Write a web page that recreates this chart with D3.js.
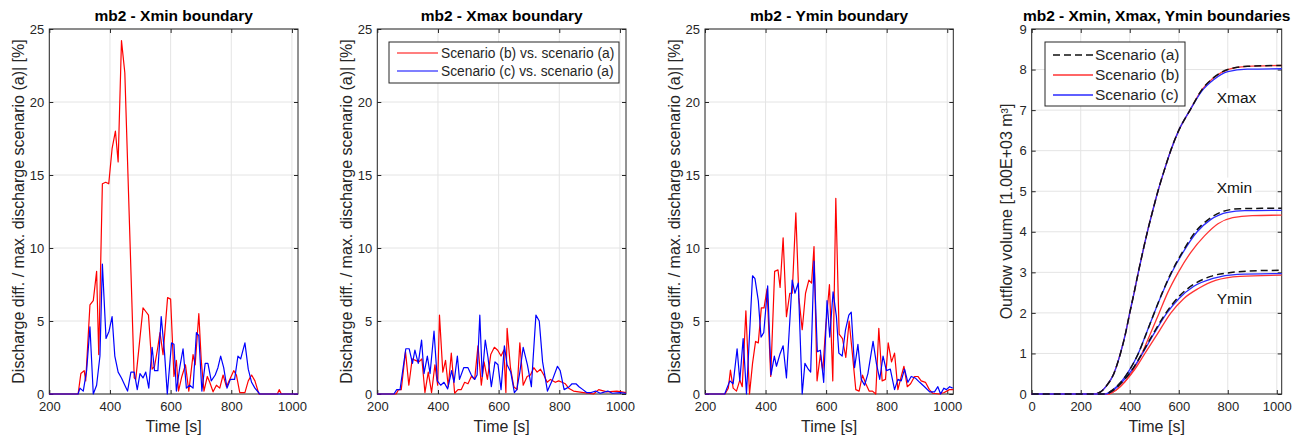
<!DOCTYPE html>
<html>
<head>
<meta charset="utf-8">
<script src="https://cdn.jsdelivr.net/npm/d3@7"></script>
<style>
  body { margin: 0; background: #fff; }
  svg { display: block; font-family: "Liberation Sans", Arial, sans-serif; }
</style>
</head>
<body>
<svg id="chart" width="1304" height="437"></svg>
<script>
// ---- data: [time (s), value] ----

// Xmin boundary, discharge diff. [%]
const xminB = [[200,0],[295,0],[304,1.4],[315,1.6],[320,0.9],[334,6.1],[345,6.4],[356,8.4],[363,2.7],[375,14.4],[386,14.5],[396,14.4],[407,16.8],[418,18.0],[427,15.9],[438,24.2],[449,22.0],[480,1.1],[485,1.0],[509,5.9],[520,5.6],[527,5.4],[539,1.7],[547,1.9],[557,3.1],[565,4.2],[575,2.7],[590,6.6],[600,6.5],[611,1.2],[619,2.3],[626,0.2],[637,1.2],[649,2.0],[660,0.2],[674,2.7],[681,2.0],[693,5.5],[701,2.3],[710,0.2],[721,1.2],[729,0.8],[740,0.15],[751,0.6],[762,0.4],[773,1.3],[784,0.5],[795,1.0],[808,1.6],[817,1.3],[828,0.1],[845,0.1],[856,0.9],[867,1.3],[878,0.9],[891,0],[952,0],[958,0.3],[965,0],[1020,0]];
const xminC = [[200,0],[295,0],[301,0.4],[312,0.2],[323,1.6],[334,4.6],[345,0],[356,0.6],[367,2.6],[375,8.9],[387,3.8],[397,4.3],[407,5.3],[416,2.6],[427,1.5],[438,1.1],[449,0.6],[458,0.2],[469,1.5],[480,1.5],[490,0.3],[499,1.4],[509,1.1],[518,1.5],[528,0.4],[539,3.2],[547,1.6],[558,1.6],[569,5.3],[580,2.8],[589,0],[603,3.5],[611,3.4],[619,0.2],[630,1.8],[641,3.1],[652,0.4],[663,0.6],[674,0.4],[685,4.2],[693,4.0],[703,0.2],[714,2.1],[723,2.1],[734,0.9],[747,1.3],[756,1.8],[765,2.6],[775,1.8],[786,0.4],[797,1.0],[811,1.0],[822,2.6],[831,2.4],[845,3.5],[856,1.7],[867,0.8],[878,0.4],[894,0],[1020,0]];

// Xmax boundary
const xmaxB = [[200,0],[262,0],[270,0.3],[279,0.3],[293,2.9],[304,0.6],[315,2.4],[326,2.3],[337,2.2],[347,2.4],[357,0.1],[368,1.5],[379,0.1],[390,2.0],[399,0.6],[405,5.4],[416,1.5],[425,2.3],[434,0.5],[444,2.8],[455,0.05],[466,0.3],[477,0.3],[488,0.8],[499,0.7],[510,1.2],[521,1.0],[532,3.3],[543,0.6],[552,2.2],[563,1.0],[574,2.7],[586,3.2],[597,3.0],[608,2.6],[617,3.0],[624,0.1],[628,4.5],[639,1.8],[650,0.5],[661,0.3],[670,3.5],[681,0.6],[694,1.2],[705,1.3],[716,1.8],[727,1.5],[738,1.7],[749,1.3],[760,0.8],[771,1.0],[787,0.8],[798,0.9],[809,0.8],[820,0.7],[831,0.4],[847,0.2],[880,0.1],[913,0],[930,0.3],[957,0.15],[990,0.2],[1020,0.1]];
const xmaxC = [[200,0],[255,0],[264,0.3],[275,0.3],[294,3.1],[305,3.1],[316,2.1],[324,3.0],[335,2.1],[346,3.7],[354,1.4],[365,2.6],[374,1.4],[387,4.3],[398,0.9],[409,0.6],[420,0.8],[432,0.35],[445,1.6],[453,0.8],[464,2.6],[471,1.0],[485,1.8],[499,1.8],[510,1.3],[521,1.0],[529,1.3],[538,5.4],[546,1.2],[556,3.7],[565,2.5],[576,0.5],[588,2.2],[598,2.0],[608,0.3],[619,3.3],[628,2.0],[640,1.5],[652,0.1],[660,0.3],[670,1.5],[681,3.2],[695,2.0],[708,0.5],[714,2.5],[723,5.4],[734,5.0],[745,2.2],[761,0.2],[778,1.0],[794,1.9],[803,1.6],[816,0.3],[833,0.5],[842,0.7],[855,0.7],[865,0.5],[878,0.3],[890,0.1],[905,0.1],[920,0.2],[935,0.05],[960,0.2],[975,0.05],[1000,0.1],[1020,0.05]];

// Ymin boundary
const yminB = [[200,0],[266,0],[277,0.4],[284,1.64],[293,0.4],[304,0.2],[315,0.95],[323,0.5],[335,5.7],[347,0],[357,2.1],[367,3.6],[376,3.5],[386,5.9],[395,5.9],[405,7.2],[417,1.2],[430,8.4],[441,8.5],[448,7.3],[458,10.7],[469,5.3],[480,6.9],[488,6.9],[500,12.4],[510,6.6],[521,4.4],[532,6.9],[543,7.8],[552,7.6],[560,10.1],[570,0.9],[581,2.7],[589,1.6],[598,4.4],[611,7.5],[622,0.9],[632,13.4],[643,4.1],[654,3.8],[665,2.5],[676,5.0],[687,2.7],[698,0.3],[709,0.2],[720,1.3],[731,0.7],[742,0.2],[753,0.2],[764,0],[774,4.5],[785,0.9],[796,1.0],[805,3.5],[816,2.2],[826,2.8],[837,0.3],[848,1.2],[857,1.9],[868,0.5],[879,0.7],[892,1.2],[903,1.2],[914,0.9],[928,0.8],[941,0.3],[952,0.05],[974,0],[990,0.1],[1007,0.3],[1020,0.3]];
const yminC = [[200,0],[265,0],[282,0.9],[293,0.7],[306,3.1],[315,0.9],[326,3.8],[337,0],[357,8.1],[365,7.9],[376,6.4],[385,3.9],[394,4.2],[407,7.4],[418,1.3],[429,2.6],[436,1.9],[447,2.7],[458,3.3],[469,1.1],[488,7.8],[497,6.9],[508,7.6],[521,0],[530,2.1],[541,1.7],[549,1.5],[560,9.1],[571,2.9],[581,3.0],[592,0.8],[603,6.4],[612,3.9],[623,7.0],[634,5.3],[642,2.8],[653,2.6],[664,4.4],[675,5.4],[683,5.6],[694,1.8],[705,3.4],[716,1.0],[727,0.6],[738,1.4],[755,3.6],[766,2.1],[777,1.0],[788,2.6],[799,1.6],[812,1.7],[826,0.3],[837,1.0],[848,0.9],[859,1.7],[870,0.8],[881,1.2],[894,1.1],[909,0.8],[925,0.5],[942,0.15],[958,0.15],[969,0.5],[978,0],[989,0.4],[997,0.3],[1008,0.5],[1018,0.4]];

// Outflow volume [1e3 m3]
const volXmaxA = [[0,0],[250,0],[280,0.05],[305,0.2],[335,0.5],[362,1.0],[383,1.5],[400,2.0],[418,2.5],[435,3.0],[453,3.5],[472,4.0],[493,4.5],[515,5.0],[540,5.5],[567,6.0],[600,6.5],[646,7.0],[694,7.5],[742,7.8],[800,8.0],[880,8.08],[1020,8.1]];
const volXmaxB = [[0,0],[250,0],[280,0.05],[305,0.2],[335,0.5],[362,1.0],[383,1.5],[400,2.0],[418,2.5],[435,3.0],[453,3.5],[472,4.0],[493,4.5],[515,5.0],[540,5.5],[567,6.0],[600,6.5],[646,7.0],[694,7.5],[742,7.8],[800,8.0],[880,8.08],[1020,8.1]];
const volXmaxC = [[0,0],[250,0],[280,0.05],[305,0.2],[335,0.5],[362,1.0],[383,1.5],[400,2.0],[418,2.5],[435,3.0],[453,3.5],[472,4.0],[493,4.5],[515,5.0],[540,5.5],[567,6.0],[600,6.5],[646,7.0],[694,7.47],[742,7.75],[800,7.95],[880,8.01],[1020,8.02]];
const volXminA = [[0,0],[300,0],[330,0.1],[365,0.3],[400,0.6],[435,1.0],[468,1.5],[500,2.0],[533,2.5],[570,3.0],[615,3.5],[668,4.0],[720,4.3],[780,4.5],[850,4.57],[1020,4.58]];
const volXminB = [[0,0],[310,0],[345,0.1],[380,0.3],[415,0.6],[450,1.0],[485,1.5],[520,2.0],[555,2.5],[598,3.0],[650,3.5],[705,3.9],[760,4.2],[820,4.35],[900,4.4],[1020,4.41]];
const volXminC = [[0,0],[300,0],[330,0.1],[365,0.3],[400,0.6],[435,1.0],[468,1.5],[500,2.0],[534,2.5],[572,3.0],[618,3.5],[675,4.0],[730,4.3],[800,4.48],[870,4.52],[1020,4.53]];
const volYminA = [[0,0],[300,0],[335,0.1],[370,0.3],[410,0.6],[450,1.0],[497,1.5],[548,2.0],[600,2.4],[660,2.7],[730,2.9],[820,3.0],[920,3.04],[1020,3.05]];
const volYminB = [[0,0],[310,0],[345,0.1],[380,0.3],[420,0.6],[462,1.0],[515,1.5],[568,2.0],[620,2.35],[680,2.6],[750,2.8],[850,2.9],[1020,2.93]];
const volYminC = [[0,0],[300,0],[335,0.1],[370,0.3],[410,0.6],[452,1.0],[500,1.5],[552,2.0],[600,2.35],[660,2.65],[740,2.85],[840,2.95],[1020,2.97]];

const diffTicksX = [200, 400, 600, 800, 1000];
const diffTicksY = [0, 5, 10, 15, 20, 25];
const volTicksX = [0, 200, 400, 600, 800, 1000];
const volTicksY = [0, 1, 2, 3, 4, 5, 6, 7, 8, 9];

const boundaryLabels = [
  { text: "Xmax", t: 755, v: 7.3 },
  { text: "Xmin", t: 755, v: 5.1 },
  { text: "Ymin", t: 755, v: 2.35 }
];

const diffYLabel = "Discharge diff. / max. discharge scenario (a)| [%]";

// ---- drawing ----
const svg = d3.select("#chart");
const plotTop = 29, plotBottom = 394;
const axisColor = "#262626";
const fmt = d3.format("d");

function drawFrame(x, y, xTicks, yTicks, title, yLabel, labelGap) {
  const [x0, x1] = x.range();
  const [y0, y1] = y.range();
  const g = svg.append("g");

  // grid
  g.selectAll(".gx").data(xTicks).enter().append("line")
    .attr("class", "gx")
    .attr("x1", d => x(d)).attr("x2", d => x(d))
    .attr("y1", y1).attr("y2", y0)
    .attr("stroke", "#e4e4e4");
  g.selectAll(".gy").data(yTicks).enter().append("line")
    .attr("class", "gy")
    .attr("x1", x0).attr("x2", x1)
    .attr("y1", d => y(d)).attr("y2", d => y(d))
    .attr("stroke", "#e4e4e4");

  // axes, ticks pointing inward
  const bottomAxis = g.append("g")
    .attr("transform", `translate(0,${y0})`)
    .call(d3.axisBottom(x).tickValues(xTicks).tickFormat(fmt).tickSizeInner(-4).tickSizeOuter(0).tickPadding(8));
  const leftAxis = g.append("g")
    .attr("transform", `translate(${x0},0)`)
    .call(d3.axisLeft(y).tickValues(yTicks).tickFormat(fmt).tickSizeInner(-4).tickSizeOuter(0).tickPadding(5));
  const topAxis = g.append("g")
    .attr("transform", `translate(0,${y1})`)
    .call(d3.axisTop(x).tickValues(xTicks).tickSizeInner(-4).tickSizeOuter(0).tickFormat(""));
  const rightAxis = g.append("g")
    .attr("transform", `translate(${x1},0)`)
    .call(d3.axisRight(y).tickValues(yTicks).tickSizeInner(-4).tickSizeOuter(0).tickFormat(""));

  [bottomAxis, leftAxis, topAxis, rightAxis].forEach(a => {
    a.select(".domain").remove();
    a.selectAll(".tick line").attr("stroke", axisColor);
    a.selectAll(".tick text")
      .attr("fill", axisColor)
      .style("font-size", "13px")
      .style("font-family", "'Liberation Sans', Arial, sans-serif");
  });

  // box
  g.append("rect")
    .attr("x", x0).attr("y", y1)
    .attr("width", x1 - x0).attr("height", y0 - y1)
    .attr("fill", "none")
    .attr("stroke", axisColor)
    .attr("stroke-width", 1);

  // texts
  g.append("text")
    .attr("x", (x0 + x1) / 2).attr("y", 21)
    .attr("text-anchor", "middle")
    .style("font-size", "15.5px")
    .style("font-weight", "bold")
    .attr("fill", "#000")
    .text(title);

  g.append("text")
    .attr("x", (x0 + x1) / 2).attr("y", 432)
    .attr("text-anchor", "middle")
    .style("font-size", "16px")
    .attr("fill", axisColor)
    .text("Time [s]");

  g.append("text")
    .attr("transform", `translate(${x0 - labelGap},${(y0 + y1) / 2}) rotate(-90)`)
    .attr("dy", "0.35em")
    .attr("text-anchor", "middle")
    .style("font-size", "16px")
    .attr("fill", axisColor)
    .text(yLabel);

  return g;
}

function drawLine(g, data, x, y, color, opts = {}) {
  const line = d3.line()
    .x(d => x(d[0]))
    .y(d => y(d[1]));
  if (opts.curve) line.curve(opts.curve);
  g.append("path")
    .datum(data)
    .attr("fill", "none")
    .attr("stroke", color)
    .attr("stroke-width", opts.width || 1.2)
    .attr("stroke-dasharray", opts.dash || null)
    .attr("stroke-linejoin", "round")
    .attr("d", line);
}

// three discharge difference panels
const diffPanels = [
  { left: 49.3, right: 298, title: "mb2 - Xmin boundary", b: xminB, c: xminC },
  { left: 377.3, right: 626, title: "mb2 - Xmax boundary", b: xmaxB, c: xmaxC },
  { left: 705, right: 953.3, title: "mb2 - Ymin boundary", b: yminB, c: yminC }
];

diffPanels.forEach((p, i) => {
  const x = d3.scaleLinear().domain([200, 1020]).range([p.left, p.right]);
  const y = d3.scaleLinear().domain([0, 25]).range([plotBottom, plotTop]);
  const g = drawFrame(x, y, diffTicksX, diffTicksY, p.title, diffYLabel, 31);
  drawLine(g, p.b, x, y, "#ff0000");
  drawLine(g, p.c, x, y, "#0000ff");

  if (i === 1) {
    const lg = g.append("g");
    lg.append("rect")
      .attr("x", 389).attr("y", 42)
      .attr("width", 230).attr("height", 41)
      .attr("fill", "#fff")
      .attr("stroke", axisColor);
    const items = [
      { label: "Scenario (b) vs. scenario (a)", color: "#ff0000" },
      { label: "Scenario (c) vs. scenario (a)", color: "#0000ff" }
    ];
    items.forEach((d, k) => {
      const yy = 53 + k * 18;
      lg.append("line")
        .attr("x1", 397).attr("x2", 438)
        .attr("y1", yy).attr("y2", yy)
        .attr("stroke", d.color).attr("stroke-width", 1.2);
      lg.append("text")
        .attr("x", 441).attr("y", yy)
        .attr("dy", "0.35em")
        .style("font-size", "13.8px")
        .attr("fill", axisColor)
        .text(d.label);
    });
  }
});

// outflow volume panel
{
  const x = d3.scaleLinear().domain([0, 1020]).range([1031.7, 1281.7]);
  const y = d3.scaleLinear().domain([0, 9]).range([plotBottom, plotTop]);
  const g = drawFrame(x, y, volTicksX, volTicksY,
    "mb2 - Xmin, Xmax, Ymin boundaries", "Outflow volume [1.00E+03 m\u00B3]", 25);

  const curve = d3.curveMonotoneX;
  [[volXmaxB, volXmaxC, volXmaxA], [volXminB, volXminC, volXminA], [volYminB, volYminC, volYminA]]
    .forEach(([b, c, a]) => {
      drawLine(g, b, x, y, "#ff3333", { curve, width: 1.3 });
      drawLine(g, c, x, y, "#2a2aff", { curve, width: 1.3 });
      drawLine(g, a, x, y, "#111", { curve, width: 1.5, dash: "7,4" });
    });

  // boundary labels with white background
  boundaryLabels.forEach(d => {
    const t = g.append("text")
      .attr("x", x(d.t)).attr("y", y(d.v))
      .attr("dy", "0.35em")
      .style("font-size", "15.5px")
      .attr("fill", "#111")
      .text(d.text);
    const bb = t.node().getBBox();
    g.insert("rect", () => t.node())
      .attr("x", bb.x - 3).attr("y", bb.y - 1)
      .attr("width", bb.width + 6).attr("height", bb.height + 2)
      .attr("fill", "#fff");
  });

  // legend
  const lg = g.append("g");
  lg.append("rect")
    .attr("x", 1045).attr("y", 42)
    .attr("width", 140).attr("height", 64)
    .attr("fill", "#fff")
    .attr("stroke", axisColor);
  const items = [
    { label: "Scenario (a)", color: "#111", dash: "7,4", width: 1.5 },
    { label: "Scenario (b)", color: "#ff3333", dash: null, width: 1.3 },
    { label: "Scenario (c)", color: "#2a2aff", dash: null, width: 1.3 }
  ];
  items.forEach((d, k) => {
    const yy = 55 + k * 20;
    lg.append("line")
      .attr("x1", 1053).attr("x2", 1093)
      .attr("y1", yy).attr("y2", yy)
      .attr("stroke", d.color)
      .attr("stroke-width", d.width)
      .attr("stroke-dasharray", d.dash);
    lg.append("text")
      .attr("x", 1095).attr("y", yy)
      .attr("dy", "0.35em")
      .style("font-size", "15.5px")
      .attr("fill", axisColor)
      .text(d.label);
  });
}
</script>
</body>
</html>
